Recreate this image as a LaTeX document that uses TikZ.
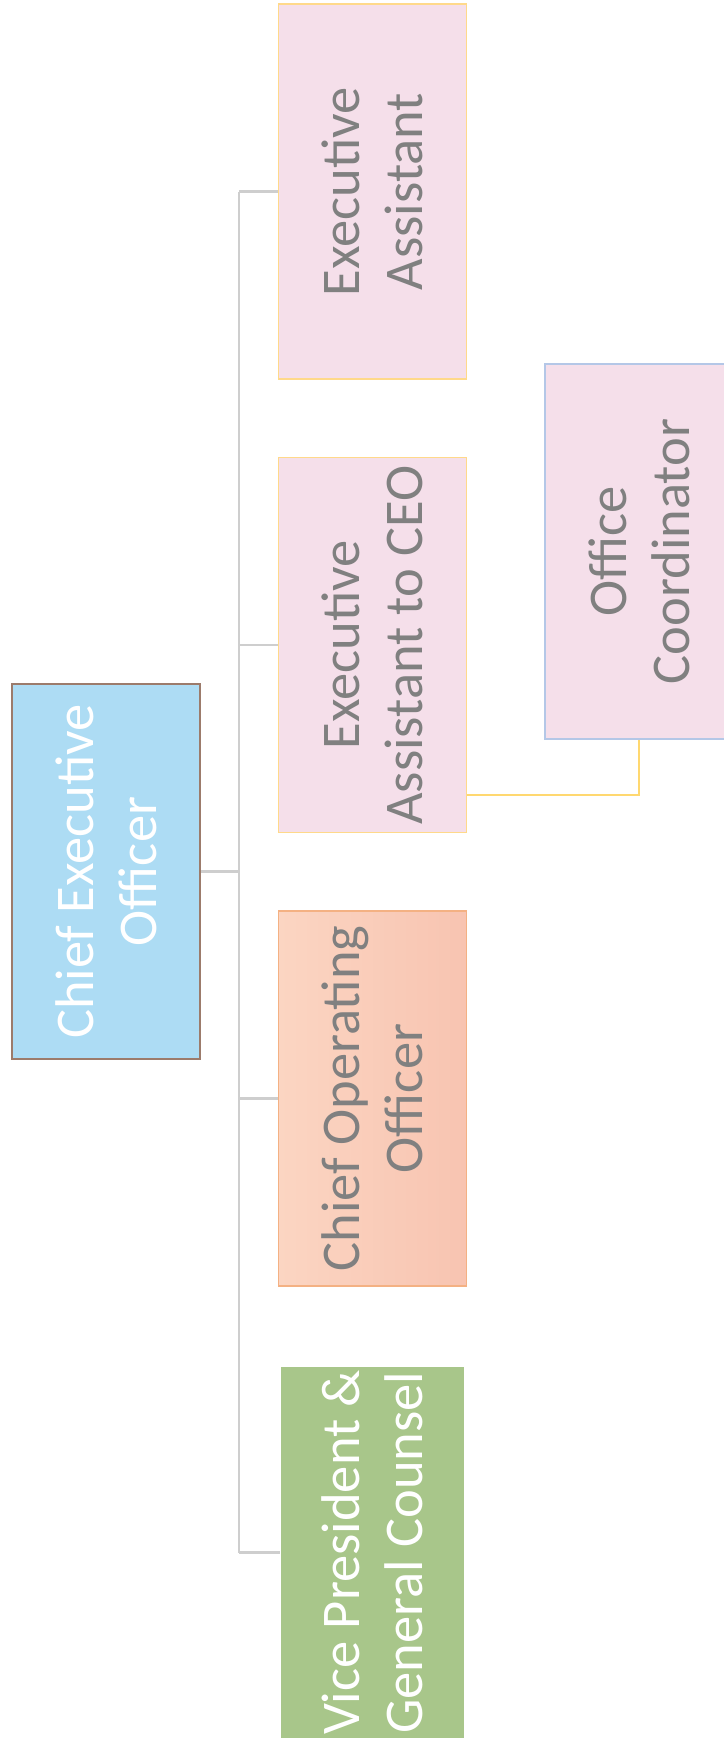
\documentclass[tikz,border=0pt]{standalone}
\usepackage{fontspec}
\setmainfont{Carlito}
\definecolor{txtgray}{RGB}{128,128,128}
\definecolor{ceofill}{RGB}{173,220,244}
\definecolor{ceoline}{RGB}{156,123,107}
\definecolor{pinkfill}{RGB}{245,223,234}
\definecolor{yelline}{RGB}{255,217,138}
\definecolor{blueline}{RGB}{180,199,231}
\definecolor{cooleft}{RGB}{251,213,194}
\definecolor{cooright}{RGB}{248,196,177}
\definecolor{cooline}{RGB}{244,177,131}
\definecolor{vpfill}{RGB}{168,198,138}
\definecolor{connline}{RGB}{206,206,206}
\definecolor{yconn}{RGB}{255,216,112}
\tikzset{
  box/.style={rotate=90, minimum width=375pt, minimum height=188pt, inner sep=0pt,
    align=center, font=\fontsize{54.5}{63}\selectfont, text=txtgray, line width=1.5pt},
  conn/.style={draw=connline, line width=2.2pt},
  yconnstyle/.style={draw=yconn, line width=2pt},
}
\begin{document}
\begin{tikzpicture}[x=1pt,y=-1pt]
\useasboundingbox (0,0) rectangle (723,1740);
\fill[white] (0,0) rectangle (723,1740);
\node[box, fill=ceofill, draw=ceoline, text=white] (ceo) at (106,871.5) {Chief Executive\\Officer};
\node[box, fill=pinkfill, draw=yelline] (ea) at (372.5,191.5) {Executive\\Assistant};
\node[box, fill=pinkfill, draw=yelline] (eac) at (372.5,645) {Executive\\Assistant to CEO};
\node[box, left color=cooleft, right color=cooright, draw=cooline] (coo) at (372.5,1098.5) {Chief Operating\\Officer};
\node[box, fill=vpfill, text=white, minimum width=371pt, minimum height=183pt] (vp) at (372.5,1552.5) {Vice President \&\\General Counsel};
\node[box, fill=pinkfill, draw=blueline] (oc) at (639,551.5) {Office\\Coordinator};
\coordinate (bus) at (239,871.5);
\coordinate (elbow) at (639,795);
\draw[conn] (ceo.south) -- (bus);
\draw[conn] (bus |- ea.north) -- (bus |- vp.north);
\draw[conn] (bus |- ea.north) -- (ea.north);
\draw[conn] (bus |- eac.north) -- (eac.north);
\draw[conn] (bus |- coo.north) -- (coo.north);
\draw[conn] (bus |- vp.north) -- (vp.north);
\draw[yconnstyle] (eac.south |- elbow) -- (elbow) -- (oc.west);
\end{tikzpicture}
\end{document}
